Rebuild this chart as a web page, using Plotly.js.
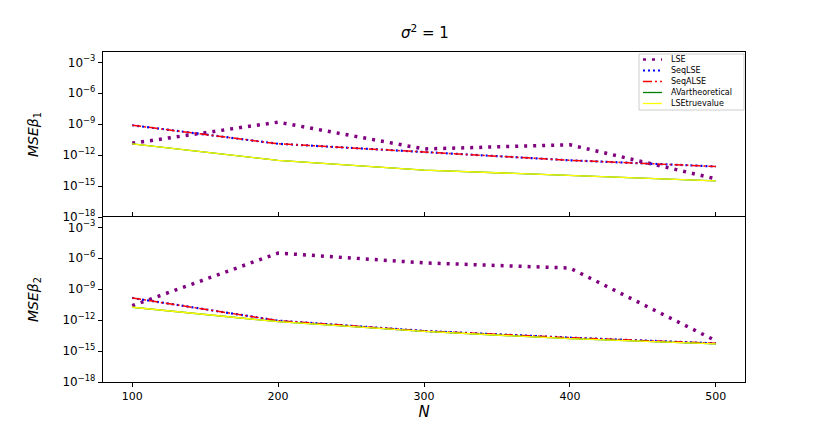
<!DOCTYPE html>
<html>
<head>
<meta charset="utf-8">
<script src="https://cdn.plot.ly/plotly-3.0.1.min.js"></script>
<style>body{margin:0;background:#fff;}</style>
</head>
<body>
<div id="graph" style="width:830px;height:436px;"></div>
<script>
//DATA
var N = [100, 200, 300, 400, 500];

// beta 1, values read as powers of ten
var lse1 = [-10.85, -8.8, -11.4, -11.0, -14.3];
var seqLse1 = [-9.1, -10.9, -11.7, -12.5, -13.1];
var seqAlse1 = [-9.1, -10.9, -11.7, -12.5, -13.1];
var avTheo1 = [-10.9, -12.5, -13.45, -14.0, -14.5];
var lseTrue1 = [-10.9, -12.5, -13.45, -14.0, -14.5];

// beta 2
var lse2 = [-10.6, -5.5, -6.45, -6.95, -14.0];
var seqLse2 = [-9.85, -12.05, -13.05, -13.7, -14.25];
var seqAlse2 = [-9.85, -12.05, -13.05, -13.7, -14.25];
var avTheo2 = [-10.75, -12.15, -13.1, -13.8, -14.3];
var lseTrue2 = [-10.75, -12.15, -13.1, -13.8, -14.3];

var names = ['LSE', 'SeqLSE', 'SeqALSE', 'AVartheoretical', 'LSEtruevalue'];
var yTickVals = [1e-3, 1e-6, 1e-9, 1e-12, 1e-15, 1e-18];
var yTickText = ['10<sup>\u22123</sup>', '10<sup>\u22126</sup>', '10<sup>\u22129</sup>',
	'10<sup>\u221212</sup>', '10<sup>\u221215</sup>', '10<sup>\u221218</sup>'];

//HELPERS
function pow10(arr){
	return arr.map(function(e){ return Math.pow(10, e); });
}

var styles = [
	{color: '#800080', width: 3.5, dash: '3px,6px'},
	{color: 'blue', width: 2.2, dash: '2px,3px'},
	{color: 'red', width: 1.5, dash: '9px,3px,2px,3px'},
	{color: 'green', width: 1.3, dash: 'solid'},
	{color: 'yellow', width: 1.3, dash: 'solid'}
];

function makeTraces(series, xa, ya){
	return series.map(function(s, i){
		return {
			x: N, y: pow10(s),
			xaxis: xa, yaxis: ya,
			mode: 'lines', type: 'scatter',
			name: names[i],
			showlegend: false,
			line: styles[i],
			hoverinfo: 'none'
		};
	});
}

//MAIN
var traces = makeTraces([lse1, seqLse1, seqAlse1, avTheo1, lseTrue1], 'x', 'y')
	.concat(makeTraces([lse2, seqLse2, seqAlse2, avTheo2, lseTrue2], 'x2', 'y2'));

var M = {l: 103, r: 85, t: 52, b: 54};
var W = 830, H = 436;
// pixel -> paper, only used for the hand drawn legend box
function px(x){ return (x - M.l) / (W - M.l - M.r); }
function py(y){ return (H - M.b - y) / (H - M.t - M.b); }

var shapes = [{
	type: 'rect', xref: 'paper', yref: 'paper',
	x0: px(639), x1: px(744), y0: py(110), y1: py(54),
	fillcolor: '#fff', line: {color: '#ccc', width: 1}, layer: 'above'
}];
var annotations = [];
names.forEach(function(nm, i){
	var yy = 59.5 + i * 11;
	var st = styles[i];
	shapes.push({
		type: 'line', xref: 'paper', yref: 'paper', layer: 'above',
		x0: px(643), x1: px(662), y0: py(yy), y1: py(yy),
		line: {color: st.color, width: Math.min(st.width, 2.5), dash: st.dash}
	});
	annotations.push({
		text: nm, xref: 'paper', yref: 'paper', x: px(669), y: py(yy),
		xanchor: 'left', yanchor: 'middle', showarrow: false,
		font: {family: 'DejaVu Sans, sans-serif', size: 8, color: '#000'}
	});
});

function yAxis(domain, label, anchor){
	return {
		domain: domain, anchor: anchor,
		type: 'log', range: [-18, -2],
		tickvals: yTickVals, ticktext: yTickText,
		ticks: 'outside', ticklen: 4, tickcolor: '#000',
		showline: true, linecolor: '#000', linewidth: 1.2, mirror: true,
		showgrid: false, zeroline: false,
		tickfont: {family: 'DejaVu Sans, sans-serif', size: 12},
		title: {text: label, font: {family: 'DejaVu Sans, sans-serif', size: 14}, standoff: 20}
	};
}

var layout = {
	width: W, height: H,
	margin: M,
	paper_bgcolor: '#fff', plot_bgcolor: '#fff',
	font: {family: 'DejaVu Sans, sans-serif', size: 11, color: '#000'},
	title: {text: '<i>\u03c3</i><sup>2</sup> = 1', font: {family: 'DejaVu Sans, sans-serif', size: 15},
		x: 0.512, xanchor: 'center', y: 0.925, yanchor: 'middle'},
	xaxis: {
		anchor: 'y', side: 'top', range: [80, 520], tickvals: N, showticklabels: false,
		ticks: '', showline: true, linecolor: '#000', linewidth: 1.2, mirror: false,
		showgrid: false, zeroline: false
	},
	xaxis2: {
		anchor: 'y2', range: [80, 520], tickvals: N,
		ticks: 'outside', ticklen: 4, tickcolor: '#000',
		showline: true, linecolor: '#000', linewidth: 1.2, mirror: 'ticks',
		showgrid: false, zeroline: false,
		tickfont: {family: 'DejaVu Sans, sans-serif', size: 11},
		title: {text: '<i>N</i>', font: {family: 'DejaVu Sans, sans-serif', size: 15}, standoff: 4}
	},
	yaxis: yAxis([0.5, 1], '<i>MSE\u03b2</i><sub>1</sub>', 'x'),
	yaxis2: yAxis([0, 0.5], '<i>MSE\u03b2</i><sub>2</sub>', 'x2'),
	shapes: shapes,
	annotations: annotations,
	showlegend: false
};

Plotly.newPlot('graph', traces, layout, {displayModeBar: false, staticPlot: true});
</script>
</body>
</html>
